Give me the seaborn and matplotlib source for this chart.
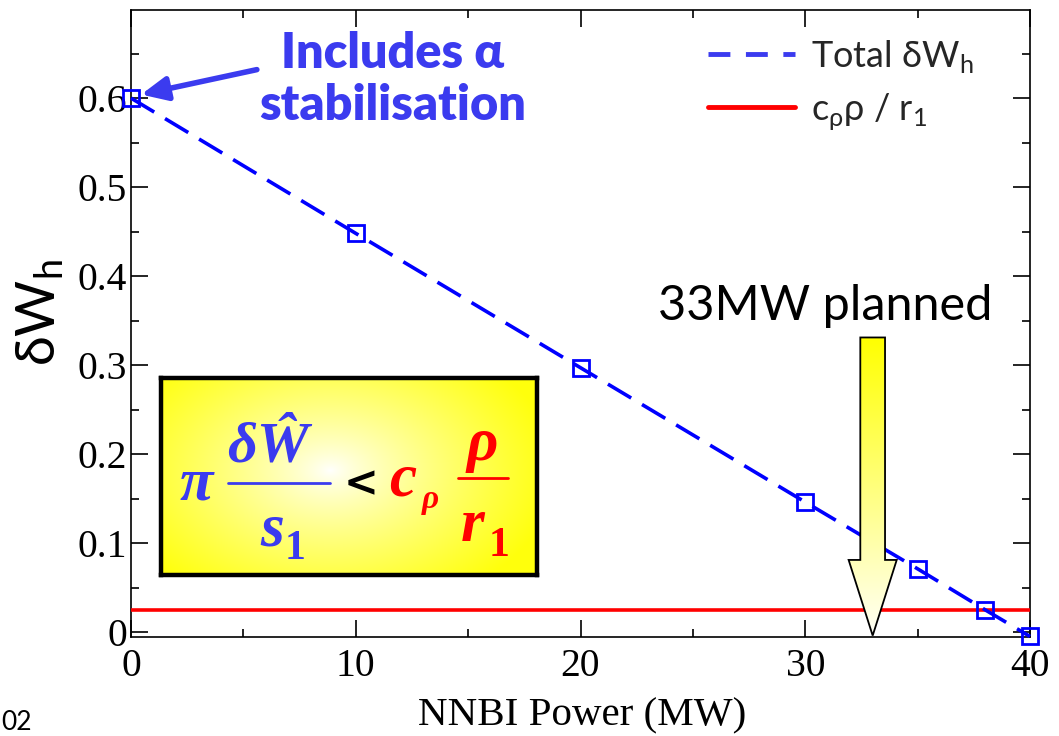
import numpy as np
import pandas as pd
import matplotlib
matplotlib.use("Agg")
import matplotlib.pyplot as plt
import seaborn as sns
from matplotlib.lines import Line2D
from matplotlib.patches import Polygon
from matplotlib.ticker import MultipleLocator, FixedLocator, FixedFormatter

# ---- data -------------------------------------------------------------
power_mw = [0, 10, 20, 30, 35, 38, 40]
total_dwh = [0.600, 0.448, 0.297, 0.146, 0.071, 0.025, -0.005]
threshold_span = [0, 40]
threshold_level = 0.025
planned_mw = 33
x_ticks = [0, 10, 20, 30, 40]
y_ticks = [0.0, 0.1, 0.2, 0.3, 0.4, 0.5, 0.6]
y_tick_labels = ["0", "0.1", "0.2", "0.3", "0.4", "0.5", "0.6"]

# ---- style ------------------------------------------------------------
sns.set_theme(style="ticks")
plt.rcParams["font.family"] = ["Lato", "DejaVu Sans"]
plt.rcParams["mathtext.fontset"] = "custom"
plt.rcParams["mathtext.rm"] = "Lato"

W, H = 1059, 736
fig = plt.figure(figsize=(W / 100, H / 100), dpi=100)
fig.patch.set_facecolor("white")


def fx(px):
    return px / W


def fy(py):
    return 1 - py / H


ax = fig.add_axes([fx(131), fy(637), fx(1030) - fx(131), fy(10) - fy(637)])
ax.set_facecolor("white")

BLUE = "#0000ff"
TXT_BLUE = "#3b3bef"
RED = "#ff0000"

df_total = pd.DataFrame({"power": power_mw, "dwh": total_dwh})
df_thr = pd.DataFrame({"power": threshold_span,
                       "dwh": [threshold_level] * len(threshold_span)})

sns.lineplot(data=df_thr, x="power", y="dwh", ax=ax, color=RED,
             linewidth=2.6, zorder=3)
sns.lineplot(data=df_total, x="power", y="dwh", ax=ax, color=BLUE,
             linewidth=2.6, marker="s", markersize=11,
             markerfacecolor="none", markeredgecolor=BLUE,
             markeredgewidth=2.0, zorder=5, clip_on=False)
ax.lines[-1].set_linestyle((0, (7.5, 3.5)))

ax.set_xlim(0, 40)
ax.set_ylim(-0.0056, 0.699)

# ---- axes, ticks -----------------------------------------------------
for s in ax.spines.values():
    s.set_visible(True)
    s.set_color("black")
    s.set_linewidth(1.2)
ax.xaxis.set_major_locator(FixedLocator(x_ticks))
ax.xaxis.set_minor_locator(MultipleLocator(5))
ax.yaxis.set_major_locator(FixedLocator(y_ticks))
ax.yaxis.set_major_formatter(FixedFormatter(y_tick_labels))
ax.yaxis.set_minor_locator(MultipleLocator(0.05))
ax.tick_params(which="both", direction="in", top=True, right=True,
               color="black", width=1.2)
ax.tick_params(which="major", length=12)
ax.tick_params(which="minor", length=6)
ax.tick_params(axis="x", which="major", pad=8)
ax.tick_params(axis="y", which="major", pad=3)
for lab in ax.get_xticklabels() + ax.get_yticklabels():
    lab.set_fontfamily("Liberation Serif")
    lab.set_fontsize(28.5)
    lab.set_color("black")

ax.set_xlabel("")
ax.set_ylabel("")
fig.text(fx(582), fy(716), "NNBI Power (MW)", family="Liberation Serif",
         fontsize=29.5, ha="center", va="center", color="black")
fig.text(fx(40), fy(312), r"δW$_\mathregular{h}$", fontsize=39,
         rotation=90, ha="center", va="center", color="black")
fig.text(fx(1), fy(735), "02", fontsize=19, ha="left", va="bottom",
         color="black")

# ---- legend ---------------------------------------------------------
handles = [Line2D([], [], color=TXT_BLUE, lw=3.5, linestyle=(0, (4.5, 3.2))),
           Line2D([], [], color=RED, lw=3.5)]
labels = [r"Total δW$_\mathregular{h}$", r"c$_\mathregular{ρ}$ρ / r$_\mathregular{1}$"]
fig.legend(handles, labels, loc="upper left",
           bbox_to_anchor=(fx(708), fy(38)), frameon=False, fontsize=26,
           handlelength=2.4, handletextpad=0.45, labelspacing=0.45,
           borderpad=0, borderaxespad=0)

# ---- annotation: alpha stabilisation --------------------------------
fig.text(fx(393), fy(54), "Includes α", color=TXT_BLUE,
         fontsize=35, fontweight="heavy", ha="center", va="center")
fig.text(fx(393), fy(106), "stabilisation", color=TXT_BLUE,
         fontsize=35, fontweight="heavy", ha="center", va="center")
ax.annotate("", xy=(0.45, 0.604), xytext=(5.6, 0.632),
            arrowprops=dict(arrowstyle="-|>,head_length=1.3,head_width=0.6",
                            color=TXT_BLUE, lw=4, shrinkA=0, shrinkB=0),
            zorder=6)

# ---- "33MW planned" arrow with vertical gradient ----------------------
fig.text(fx(825), fy(306), "33MW planned", fontsize=35, ha="center",
         va="center", color="black")
sh, hh = 0.55, 1.07
top, base, tip = 0.331, 0.081, -0.004
arrow_xy = [(planned_mw - sh, top), (planned_mw + sh, top),
            (planned_mw + sh, base), (planned_mw + hh, base),
            (planned_mw, tip), (planned_mw - hh, base),
            (planned_mw - sh, base)]
arrow = Polygon(arrow_xy, closed=True, facecolor="none", edgecolor="black",
                lw=1.3, zorder=8)
ax.add_patch(arrow)
grad = np.linspace(0, 1, 256)[:, None]
c_top = np.array([1.0, 1.0, 0.0])
c_bot = np.array([1.0, 1.0, 0.97])
img = (c_top * (1 - grad[..., None]) + c_bot * grad[..., None])
img = np.repeat(img, 2, axis=1)
gim = ax.imshow(img, extent=(planned_mw - hh, planned_mw + hh, tip, top),
                aspect="auto", zorder=7, interpolation="bilinear")
gim.set_clip_path(arrow)
ax.set_xlim(0, 40)
ax.set_ylim(-0.0056, 0.699)

# ---- formula box with radial gradient --------------------------------
bx0, by0, bx1, by1 = 161, 378, 537, 575
bax = fig.add_axes([fx(bx0), fy(by1), fx(bx1) - fx(bx0), fy(by0) - fy(by1)])
ny, nx = 200, 380
yy, xx = np.mgrid[0:ny, 0:nx]
cx, cy = (330 - bx0) / (bx1 - bx0) * nx, (470 - by0) / (by1 - by0) * ny
d = np.sqrt(((xx - cx) / (nx * 0.6)) ** 2 + ((yy - cy) / (ny * 0.75)) ** 2)
d = np.clip(d, 0, 1) ** 0.8
white = np.array([1.0, 1.0, 1.0])
yellow = np.array([1.0, 1.0, 0.05])
box_img = white * (1 - d[..., None]) + yellow * d[..., None]
bax.imshow(box_img, aspect="auto", interpolation="bilinear")
bax.set_xticks([])
bax.set_yticks([])
for s in bax.spines.values():
    s.set_visible(True)
    s.set_color("black")
    s.set_linewidth(3.2)

serif_bi = dict(family="Liberation Serif", fontweight="bold",
                fontstyle="italic")
serif_b = dict(family="Liberation Serif", fontweight="bold")
fig.text(fx(196), fy(500), "π", color=TXT_BLUE, fontsize=44, ha="center",
         va="baseline", **serif_bi)
fig.text(fx(268), fy(462), "δŴ", color=TXT_BLUE, fontsize=42, ha="center",
         va="baseline", **serif_bi)
fig.add_artist(Line2D([fx(228), fx(330)], [fy(483), fy(483)],
                      color=TXT_BLUE, lw=2))
fig.text(fx(272), fy(546), "s", color=TXT_BLUE, fontsize=44, ha="center",
         va="baseline", **serif_bi)
fig.text(fx(295), fy(559), "1", color=TXT_BLUE, fontsize=30, ha="center",
         va="baseline", **serif_b)
fig.text(fx(361), fy(484), "<", color="black", fontsize=30, ha="center",
         va="center", family="DejaVu Sans", fontweight="bold")
fig.text(fx(403), fy(496), "c", color=RED, fontsize=44, ha="center",
         va="baseline", **serif_bi)
fig.text(fx(430), fy(508), "ρ", color=RED, fontsize=24, ha="center",
         va="baseline", **serif_bi)
fig.text(fx(482), fy(460), "ρ", color=RED, fontsize=44, ha="center",
         va="baseline", **serif_bi)
fig.add_artist(Line2D([fx(458), fx(508)], [fy(478), fy(478)],
                      color=RED, lw=2))
fig.text(fx(473), fy(541), "r", color=RED, fontsize=44, ha="center",
         va="baseline", **serif_bi)
fig.text(fx(499), fy(556), "1", color=RED, fontsize=30, ha="center",
         va="baseline", **serif_b)

fig.savefig("out.png", dpi=100)
